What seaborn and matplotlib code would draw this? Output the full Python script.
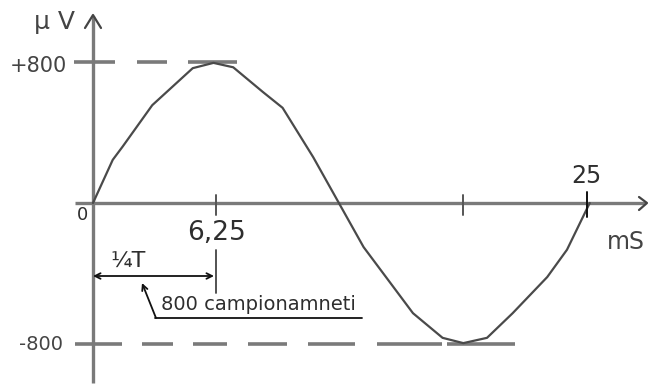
import matplotlib
matplotlib.use("Agg")
import matplotlib.pyplot as plt
import seaborn as sns
import pandas as pd

# ---- data (time in ms, voltage in µV) ----
time_ms = [0, 1.0, 1.5, 3.0, 5.05, 6.1, 7.1, 8.6, 9.6, 11.15, 12.45,
           13.7, 16.2, 17.7, 18.75, 19.95, 21.25, 23.0, 24.0, 25.15]
volt_uv = [0, 245, 320, 555, 765, 795, 770, 630, 540, 260, 0,
           -250, -625, -765, -795, -765, -625, -420, -265, 0]
x_ticks = [6.25, 18.75, 25]
x_tick_labels = ["6,25", "", "25"]
y_levels = [800, -800]
y_level_labels = ["+800", "-800"]
x_unit = "mS"
y_unit = "µ V"
quarter_label = "¼T"
samples_label = "800 campionamneti"

df = pd.DataFrame({"t": time_ms, "v": volt_uv})

sns.set_style("white")
plt.rcParams["font.family"] = ["DejaVu Sans"]

W, H = 648, 385
X0, Y0 = 93, 203          # pixel position of the origin
SX, SY = 19.75, 0.17625   # pixels per ms / per µV

def d(px, py):
    return (px - X0) / SX, (Y0 - py) / SY

def dx(px):
    return (px - X0) / SX

def dy(py):
    return (Y0 - py) / SY

fig = plt.figure(figsize=(W / 100, H / 100), dpi=100)
ax = fig.add_axes([0, 0, 1, 1])
ax.set_xlim(dx(0), dx(W))
ax.set_ylim(dy(H), dy(0))
ax.axis("off")

axis_col = "#7a7a7a"
txt_col = "#2e2e2e"

# axes
ax.plot([dx(75), dx(645)], [0, 0], color=axis_col, lw=2.4, solid_capstyle="butt", zorder=2)
ax.plot([0, 0], [dy(383), dy(16)], color=axis_col, lw=2.4, solid_capstyle="butt", zorder=2)
# arrow heads (chevrons)
ax.plot([dx(85), dx(93), dx(101)], [dy(28), dy(15), dy(28)], color="#444444", lw=1.6, zorder=3)
ax.plot([dx(639), dx(647), dx(639)], [dy(197), dy(203), dy(210)], color="#444444", lw=1.6, zorder=3)

# dashed reference levels (hand-drawn dash segments, pixel spans)
top_dashes = [(74, 115), (137, 167), (188, 237)]
bot_dashes = [(75, 122), (142, 173), (193, 227), (248, 287), (308, 355), (377, 442), (447, 515)]
for a, b in top_dashes:
    ax.plot([dx(a), dx(b)], [y_levels[0]] * 2, color=axis_col, lw=2.6,
            solid_capstyle="butt", zorder=1)
for a, b in bot_dashes:
    ax.plot([dx(a), dx(b)], [y_levels[1]] * 2, color=axis_col, lw=2.6,
            solid_capstyle="butt", zorder=1)

# curve
sns.lineplot(data=df, x="t", y="v", ax=ax, sort=False, color="#4a4a4a", lw=1.6, zorder=4,
             legend=False)

# ticks on x axis
for i, xt in enumerate(x_ticks):
    last = i == len(x_ticks) - 1
    col = "#111111" if last else "#555555"
    top = 192 if last else 195
    bot = 217 if last else 215
    ax.plot([xt, xt], [dy(bot), dy(top)], color=col, lw=1.4, zorder=5)

# tick labels
ax.text(x_ticks[0], dy(233), x_tick_labels[0], ha="center", va="center",
        fontsize=19, color=txt_col)
ax.text(x_ticks[2], dy(176), x_tick_labels[2], ha="center", va="center",
        fontsize=17, color=txt_col)
ax.text(dx(626), dy(242), x_unit, ha="center", va="center", fontsize=17, color="#444444")
ax.text(dx(82), dy(215), "0", ha="center", va="center", fontsize=13, color=txt_col)
ax.text(dx(67), dy(66), y_level_labels[0], ha="right", va="center",
        fontsize=15, color="#444444")
ax.text(dx(63), dy(345), y_level_labels[1], ha="right", va="center",
        fontsize=14, color="#444444")
ax.text(dx(54), dy(22), y_unit, ha="center", va="center", fontsize=18, color="#444444")

# quarter period marker
ax.plot([x_ticks[0]] * 2, [dy(250), dy(293)], color="#444444", lw=1.3, zorder=5)
ax.annotate("", xy=d(93, 276), xytext=d(214, 276),
            arrowprops=dict(arrowstyle="<->", color="#111111", lw=1.3,
                            shrinkA=0, shrinkB=0, mutation_scale=10))
ax.text(dx(128), dy(261), quarter_label, ha="center", va="center", fontsize=16, color=txt_col)

# samples annotation
ax.plot([dx(155), dx(362)], [dy(318)] * 2, color="#111111", lw=1.3)
ax.annotate("", xy=d(142, 283), xytext=d(156, 318),
            arrowprops=dict(arrowstyle="->", color="#111111", lw=1.3,
                            shrinkA=0, shrinkB=0, mutation_scale=10))
ax.text(dx(161), dy(305), samples_label, ha="left", va="center", fontsize=14,
        color=txt_col, family=["Liberation Sans Narrow", "DejaVu Sans"])

fig.savefig("out.png", dpi=100)
